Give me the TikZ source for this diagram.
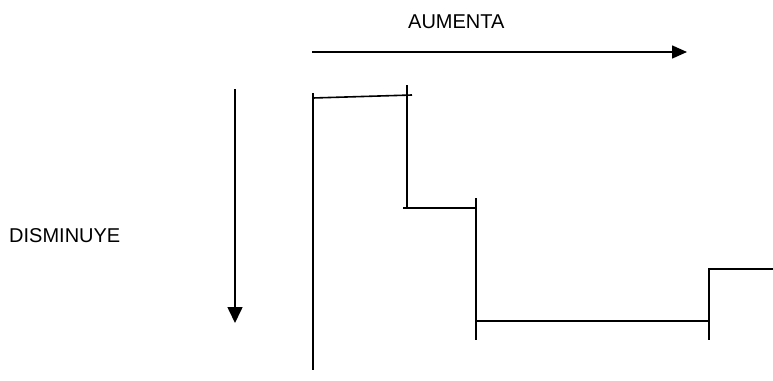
\documentclass[tikz,border=0pt]{standalone}
\usepackage{fontspec}
\setmainfont{Liberation Sans}
\usetikzlibrary{arrows.meta}
\begin{document}
\begin{tikzpicture}[x=1pt,y=-1pt,
    stroke/.style={line width=1.6pt,black},
    axisarrow/.style={stroke,-{Triangle[length=15pt,width=13pt]}},
    caption/.style={font=\fontsize{20}{24}\selectfont,inner sep=0pt,anchor=base west}]
  \useasboundingbox (0,0) rectangle (773,380);

  % direction labels
  \node[caption] (aumenta) at (408,28) {AUMENTA};
  \node[caption] (disminuye) at (9,242) {DISMINUYE};

  % direction arrows
  \coordinate (hs) at (312,52);
  \coordinate (he) at (687,52);
  \coordinate (vs) at (235,89);
  \coordinate (ve) at (235,323);
  \draw[axisarrow] (hs) -- (he);
  \draw[axisarrow,-{Triangle[length=16pt,width=15pt]}] (vs) -- (ve);

  % step profile
  \draw[stroke] (313,93) -- (313,370);
  \draw[stroke] (313,98) -- (412,95);
  \draw[stroke] (407,85) -- (407,208);
  \draw[stroke] (403,208) -- (476,208);
  \draw[stroke] (476,198) -- (476,340);
  \draw[stroke] (476,321) -- (709,321);
  \draw[stroke] (709,268) -- (709,340);
  \draw[stroke] (709,269) -- (773,269);
\end{tikzpicture}
\end{document}
